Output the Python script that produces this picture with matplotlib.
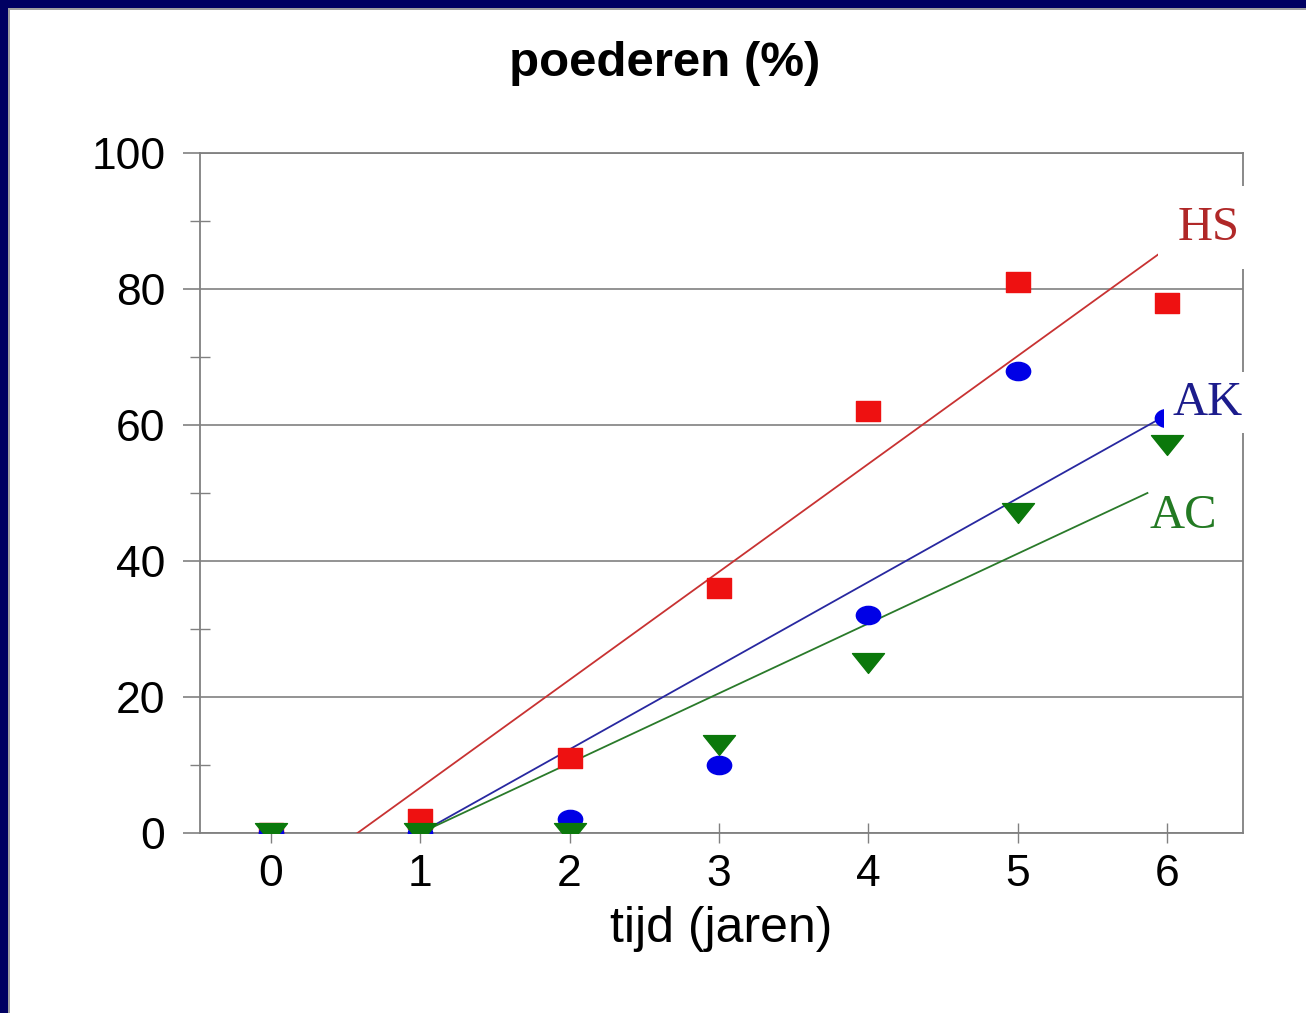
import matplotlib
matplotlib.use('Agg')
import matplotlib.pyplot as plt
import matplotlib.patches as patches
from matplotlib.path import Path

# data
years = [0, 1, 2, 3, 4, 5, 6]
hs_values = [0, 2, 11, 36, 62, 81, 78]
ak_values = [0, 0, 2, 10, 32, 68, 61]
ac_values = [0, 0, 0, 13, 25, 47, 57]

# trend lines (start / end points)
hs_trend_x = [0.58, 6.0]
hs_trend_y = [0, 86]
ak_trend_x = [1.0, 6.0]
ak_trend_y = [0, 61.5]
ac_trend_x = [1.0, 5.87]
ac_trend_y = [0, 50]

y_ticks = [0, 20, 40, 60, 80, 100]
y_minor = [10, 30, 50, 70, 90]

title = 'poederen (%)'
x_label = 'tijd (jaren)'

plt.rcParams['font.family'] = ['Liberation Sans', 'DejaVu Sans']


def scaled_marker(path, sx, sy):
    verts = path.vertices.copy()
    verts[:, 0] *= sx
    verts[:, 1] *= sy
    return Path(verts, path.codes)


# slightly flattened markers, like the original
square_marker = Path([(-0.5, -0.4), (0.5, -0.4), (0.5, 0.4), (-0.5, 0.4), (-0.5, -0.4)],
                     [Path.MOVETO, Path.LINETO, Path.LINETO, Path.LINETO, Path.CLOSEPOLY])
circle_marker = scaled_marker(Path.unit_circle(), 1.0, 0.75)
tri_marker = Path([(-1, 0.62), (1, 0.62), (0, -0.62), (-1, 0.62)],
                  [Path.MOVETO, Path.LINETO, Path.LINETO, Path.CLOSEPOLY])

fig = plt.figure(figsize=(13.06, 10.13), dpi=100)
fig.patch.set_facecolor('white')

# navy frame top and left
navy = '#000062'
fig.patches.append(patches.Rectangle((0, 1 - 8 / 1013), 1, 8 / 1013, transform=fig.transFigure,
                                     facecolor=navy, edgecolor='none', zorder=0))
fig.patches.append(patches.Rectangle((0, 0), 8 / 1306, 1, transform=fig.transFigure,
                                     facecolor=navy, edgecolor='none', zorder=0))
fig.patches.append(patches.Rectangle((8 / 1306, 1 - 10 / 1013), 1, 2 / 1013, transform=fig.transFigure,
                                     facecolor='#a0a0a0', edgecolor='none', zorder=0))
fig.patches.append(patches.Rectangle((8 / 1306, 0), 2 / 1306, 1 - 8 / 1013, transform=fig.transFigure,
                                     facecolor='#a0a0a0', edgecolor='none', zorder=0))

ax = fig.add_axes([200 / 1306, 1 - 833 / 1013, 1043 / 1306, 680 / 1013])

ax.set_xlim(-0.475, 6.51)
ax.set_ylim(0, 100)

grid_col = '#808080'
for s in ax.spines.values():
    s.set_color(grid_col)
    s.set_linewidth(1.3)

ax.set_yticks(y_ticks)
ax.set_yticks(y_minor, minor=True)
ax.set_xticks(years)
ax.yaxis.grid(True, which='major', color=grid_col, linewidth=1.2)
ax.set_axisbelow(True)

ax.tick_params(axis='y', which='major', direction='out', length=12, width=1.2, color=grid_col,
               labelsize=32, pad=13)
ax.tick_params(axis='y', which='minor', direction='inout', length=14, width=1.0, color=grid_col)
ax.tick_params(axis='x', which='major', direction='inout', length=14, width=1.0, color=grid_col,
               labelsize=32, pad=8)

# trend lines
ax.plot(hs_trend_x, hs_trend_y, color='#c83232', linewidth=1.3, zorder=3)
ax.plot(ak_trend_x, ak_trend_y, color='#2828a0', linewidth=1.3, zorder=3)
ax.plot(ac_trend_x, ac_trend_y, color='#2a7a2a', linewidth=1.3, zorder=3)

# data points
ax.plot(years, hs_values, linestyle='none', marker=square_marker, markersize=17.5,
        color='#ee1111', zorder=4)
ax.plot(years, ak_values, linestyle='none', marker=circle_marker, markersize=17.5,
        color='#0000e6', zorder=5)
ax.plot(years, ac_values, linestyle='none', marker=tri_marker, markersize=23,
        color='#0b780b', zorder=6)

# series labels
ax.text(6.28, 89.0, 'HS', color='#b02828', fontsize=35, family=['Liberation Serif'],
        ha='center', va='center', bbox=dict(facecolor='white', edgecolor='none', pad=14),
        clip_on=False, zorder=7)
ax.text(6.27, 63.3, 'AK', color='#1c1c8c', fontsize=35, family=['Liberation Serif'],
        ha='center', va='center', bbox=dict(facecolor='white', edgecolor='none', pad=6),
        clip_on=False, zorder=7)
ax.text(6.11, 46.6, 'AC', color='#237a23', fontsize=35, family=['Liberation Serif'],
        ha='center', va='center', clip_on=False, zorder=7)

fig.text(665 / 1306, 1 - 64 / 1013, title, fontsize=35.5, fontweight='bold',
         ha='center', va='center')
ax.set_xlabel(x_label, fontsize=36, labelpad=8)

fig.savefig('out.png', dpi=100)
